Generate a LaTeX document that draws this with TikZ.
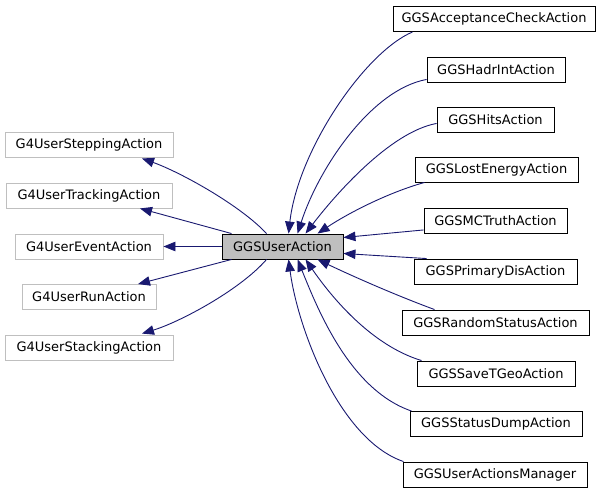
\documentclass[tikz,border=0pt]{standalone}
\usepackage{fontspec}
\setmainfont{DejaVu Sans}
\usetikzlibrary{arrows.meta,calc}
\definecolor{edgeblue}{HTML}{191970}
\definecolor{basegray}{HTML}{BFBFBF}
\begin{document}
\begin{tikzpicture}[x=1pt,y=-1pt,
  cls/.style={draw=black,line width=0.9pt,fill=white,minimum height=25pt,inner sep=0pt,
    font=\fontsize{13}{15}\selectfont},
  basecls/.style={cls,draw=basegray},
  maincls/.style={cls,fill=basegray},
  edge/.style={draw=edgeblue,line width=0.9pt,-{Triangle[length=12pt,width=9.5pt]}}]
\useasboundingbox (0,0) rectangle (605,493);
% left (base) classes
\node[basecls,minimum width=168pt] (step)  at (89,144.5) {G4UserSteppingAction};
\node[basecls,minimum width=166pt] (track) at (89,195.5) {G4UserTrackingAction};
\node[basecls,minimum width=148pt] (event) at (89,246.5) {G4UserEventAction};
\node[basecls,minimum width=134pt] (run)   at (89,297)   {G4UserRunAction};
\node[basecls,minimum width=168pt] (stack) at (89,347.5) {G4UserStackingAction};
% main
\node[maincls,minimum width=121pt] (main) at (282.5,246.5) {GGSUserAction};
% right (derived) classes
\node[cls,minimum width=202pt] (acc)  at (494,19)    {GGSAcceptanceCheckAction};
\node[cls,minimum width=138pt] (hadr) at (496,69.5)  {GGSHadrIntAction};
\node[cls,minimum width=117pt] (hits) at (495.5,119.5) {GGSHitsAction};
\node[cls,minimum width=163pt] (lost) at (496.5,169.5) {GGSLostEnergyAction};
\node[cls,minimum width=143pt] (mc)   at (495.5,221) {GGSMCTruthAction};
\node[cls,minimum width=163pt] (prim) at (495.5,271.5) {GGSPrimaryDisAction};
\node[cls,minimum width=187pt] (rand) at (495.5,322.5) {GGSRandomStatusAction};
\node[cls,minimum width=158pt] (save) at (496,373.5) {GGSSaveTGeoAction};
\node[cls,minimum width=172pt] (dump) at (496,424)   {GGSStatusDumpAction};
\node[cls,minimum width=184pt] (mgr)  at (495,474.5) {GGSUserActionsManager};
% edges to base classes
\draw[edge] ($(main.north west)+(45,0)$) .. controls (240,205) and (180,172) .. ($(step.south)+(53,1)$);
\draw[edge] ($(main.north west)+(10,0)$) -- ($(track.south)+(51,0)$);
\draw[edge] (main.west) -- (event.east);
\draw[edge] ($(main.south west)+(10,0)$) -- ($(run.north)+(49,0)$);
\draw[edge] ($(main.south west)+(45,0)$) .. controls (240,290) and (180,322) .. ($(stack.north)+(53,-1)$);
% edges from derived classes
\draw[edge] ($(acc.south west)+(20,0)$) .. controls (365,52) and (298,150) .. ($(main.north west)+(67,0)$);
\draw[edge] ($(hadr.south west)+(0,-3)$) .. controls (370,90) and (318,170) .. ($(main.north west)+(76,0)$);
\draw[edge] ($(hits.south west)+(0,-9)$) .. controls (390,132) and (335,195) .. ($(main.north west)+(84,0)$);
\draw[edge] ($(lost.south west)+(10,0)$) .. controls (390,192) and (350,212) .. ($(main.north west)+(96,0)$);
\draw[edge] ($(mc.south west)+(0,-4)$) -- ($(main.east)+(0,-9)$);
\draw[edge] ($(prim.north west)+(13,0)$) -- ($(main.east)+(0,7)$);
\draw[edge] ($(rand.north west)+(33,0)$) .. controls (395,295) and (350,275) .. ($(main.south west)+(96,0)$);
\draw[edge] ($(save.north west)+(5,0)$) .. controls (370,345) and (330,295) .. ($(main.south west)+(84,0)$);
\draw[edge] ($(dump.north west)+(2,0)$) .. controls (350,390) and (318,310) .. ($(main.south west)+(76,0)$);
\draw[edge] ($(mgr.north west)+(1,0)$) .. controls (340,440) and (298,330) .. ($(main.south west)+(67,0)$);
\end{tikzpicture}
\end{document}
